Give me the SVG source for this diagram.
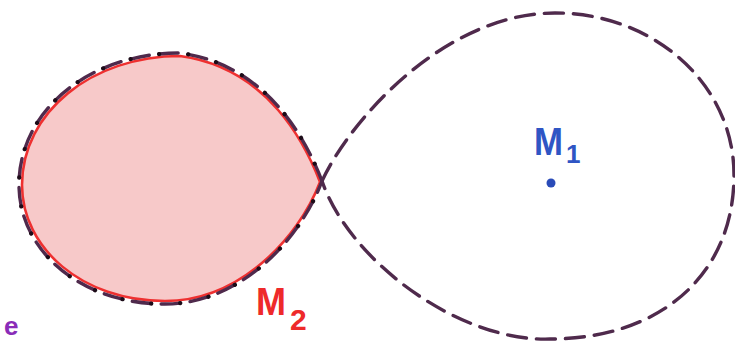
<svg xmlns="http://www.w3.org/2000/svg" width="735" height="341" viewBox="0 0 735 341">
<style>
.dash{fill:none;stroke:#4f2a4c;stroke-width:3.4;stroke-dasharray:19 10;stroke-linecap:round}
.dots{fill:none;stroke:#1c0c18;stroke-width:4.2;stroke-dasharray:0.1 28.9;stroke-dashoffset:10;stroke-linecap:round}
.lbl{font-family:"Liberation Sans","DejaVu Sans",sans-serif;font-weight:bold}
</style>
<rect width="735" height="341" fill="#ffffff"/>
<g id="region-M2">
<path d="M320,182 C306,146 269,68 180,56 C92,56 22,112 22,185 C22,248 82,301 165,301 C238,301 298,240 320,182 Z" fill="#f7c9c9" stroke="#ee3030" stroke-width="2.6"/>
</g>
<g id="connectors">
<path id="right-lobe" class="dash" d="M322,181 C350,120 445,13 555,13 C655,13 734,85 734,175 C734,275 660,339 550,339 C460,342 350,262 322,181"/>
<path id="left-lobe" class="dash" d="M322,181 C308,145 270,65 180,53 C90,53 19,110 19,185 C19,250 80,304 165,304 C240,304 300,240 322,181"/>
<path class="dots" d="M322,181 C308,145 270,65 180,53 C90,53 19,110 19,185 C19,250 80,304 165,304 C240,304 300,240 322,181"/>
</g>
<g id="M1">
<text class="lbl" x="534" y="155" font-size="38" fill="#2f55c4" textLength="29" lengthAdjust="spacingAndGlyphs">M</text>
<text class="lbl" x="566" y="163" font-size="26" fill="#2f55c4">1</text>
<circle cx="551" cy="183" r="4.5" fill="#2a4bb8"/>
</g>
<g id="M2">
<text class="lbl" x="256" y="315" font-size="38" fill="#ee2a2a" textLength="30" lengthAdjust="spacingAndGlyphs">M</text>
<text class="lbl" x="290" y="330" font-size="30" fill="#ee2a2a">2</text>
</g>
<g id="e-label">
<text class="lbl" x="4" y="335" font-size="26" fill="#8a2cb8">e</text>
</g>
</svg>
